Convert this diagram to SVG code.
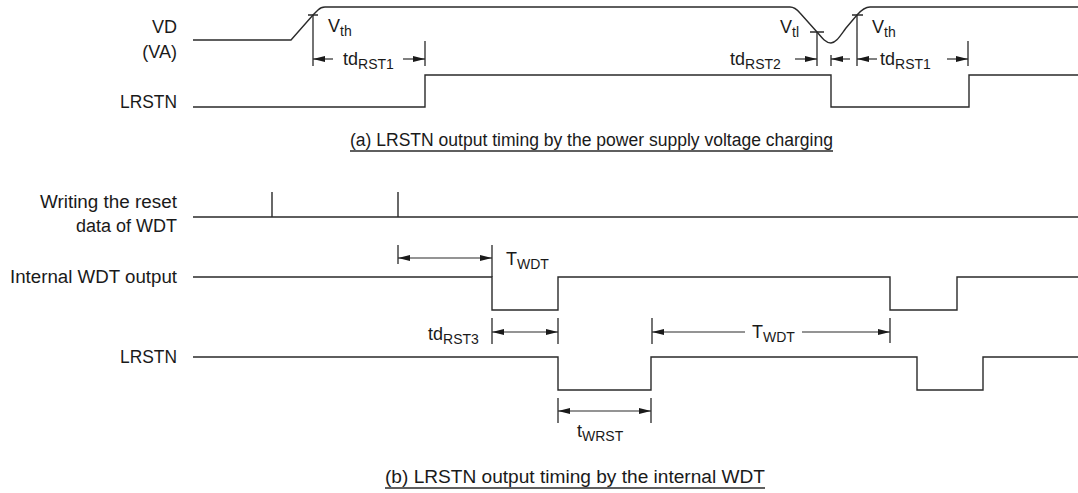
<svg xmlns="http://www.w3.org/2000/svg" width="1078" height="493" viewBox="0 0 1078 493">
<style>
.sig{fill:none;stroke:#2a2a2a;stroke-width:1.4}
.tk{fill:none;stroke:#2a2a2a;stroke-width:1.3}
.ar{fill:none;stroke:#2a2a2a;stroke-width:1.2}
text{font-family:"Liberation Sans",Arial,sans-serif;font-size:18px;fill:#1a1a1a}
.sub{font-size:14px}
.cap{font-size:18px}
</style>
<defs>
<marker id="ah" viewBox="0 0 12 6" refX="12" refY="3" markerWidth="12" markerHeight="6" markerUnits="userSpaceOnUse" orient="auto-start-reverse">
<path d="M0,0 L12,3 L0,6 Z" fill="#1a1a1a"/>
</marker>
</defs>
<rect width="1078" height="493" fill="#ffffff"/>

<g id="labels">
<text x="177" y="33" text-anchor="end">VD</text>
<text x="177" y="58" text-anchor="end">(VA)</text>
<text x="177" y="108" text-anchor="end" textLength="57" lengthAdjust="spacingAndGlyphs">LRSTN</text>
<text x="177" y="208" text-anchor="end" textLength="137" lengthAdjust="spacingAndGlyphs">Writing the reset</text>
<text x="177" y="232" text-anchor="end">data of WDT</text>
<text x="177" y="283" text-anchor="end" textLength="167" lengthAdjust="spacingAndGlyphs">Internal WDT output</text>
<text x="177" y="363" text-anchor="end" textLength="57" lengthAdjust="spacingAndGlyphs">LRSTN</text>
</g>

<g id="sig-vd">
<path class="sig" d="M193 40 H291 L313 15 L318 10 Q321 7 325 7 H790 Q795 7 800 13 L817 32 C822 38 826 43 831 43 C836 43 840 36 846 28 L857 15 Q864 7 870 7 H1078"/>
</g>
<g id="sig-lrstn-a">
<path class="sig" d="M193 107 H425 V75 H831 V107 H969 V75 H1078"/>
</g>
<g id="sig-write">
<path class="sig" d="M193 217 H1078 M272 192 V217 M398 192 V217"/>
</g>
<g id="sig-wdt">
<path class="sig" d="M193 277 H492 V310 H558 V277 H890 V310 H957 V277 H1078"/>
</g>
<g id="sig-lrstn-b">
<path class="sig" d="M193 357 H558 V390 H651 V357 H917 V390 H983 V357 H1078"/>
</g>

<g id="connectors">
<path class="tk" d="M308 15 H318 M313 15 V66 M425 41 V66 M810 32 H824 M817 32 V66 M831 55 V66 M852 15 H863 M857 15 V66 M968 41 V66"/>
<line class="ar" x1="333" y1="59" x2="313" y2="59" marker-end="url(#ah)"/>
<line class="ar" x1="403" y1="59" x2="425" y2="59" marker-end="url(#ah)"/>
<line class="ar" x1="795" y1="59" x2="817" y2="59" marker-end="url(#ah)"/>
<line class="ar" x1="850" y1="59" x2="831" y2="59" marker-end="url(#ah)"/>
<line class="ar" x1="877" y1="59" x2="857" y2="59" marker-end="url(#ah)"/>
<line class="ar" x1="947" y1="59" x2="968" y2="59" marker-end="url(#ah)"/>
<path class="tk" d="M398 245 V264 M492 245 V277 M492 318 V344 M558 318 V344 M652 318 V344 M890 318 V343 M558 398 V423 M651 398 V423"/>
<line class="ar" x1="398" y1="258" x2="492" y2="258" marker-start="url(#ah)" marker-end="url(#ah)"/>
<line class="ar" x1="492" y1="332" x2="558" y2="332" marker-start="url(#ah)" marker-end="url(#ah)"/>
<line class="ar" x1="745" y1="332" x2="652" y2="332" marker-end="url(#ah)"/>
<line class="ar" x1="802" y1="332" x2="890" y2="332" marker-end="url(#ah)"/>
<line class="ar" x1="558" y1="411" x2="651" y2="411" marker-start="url(#ah)" marker-end="url(#ah)"/>
</g>

<g id="annotations">
<text x="328" y="32">V<tspan class="sub" dy="4">th</tspan></text>
<text x="343" y="65">td<tspan class="sub" dy="4">RST1</tspan></text>
<text x="780" y="33">V<tspan class="sub" dy="4">tl</tspan></text>
<text x="872" y="33">V<tspan class="sub" dy="4">th</tspan></text>
<text x="730" y="65">td<tspan class="sub" dy="4">RST2</tspan></text>
<text x="880" y="65">td<tspan class="sub" dy="4">RST1</tspan></text>
<text x="506" y="265">T<tspan class="sub" dy="4">WDT</tspan></text>
<text x="428" y="340">td<tspan class="sub" dy="4">RST3</tspan></text>
<text x="752" y="338">T<tspan class="sub" dy="4">WDT</tspan></text>
<text x="577" y="437">t<tspan class="sub" dy="4">WRST</tspan></text>
</g>

<g id="captions">
<text class="cap" x="350" y="146" textLength="483" lengthAdjust="spacingAndGlyphs">(a) LRSTN output timing by the power supply voltage charging</text>
<line class="tk" x1="350" y1="151" x2="833" y2="151"/>
<text class="cap" x="385" y="483" textLength="380" lengthAdjust="spacingAndGlyphs">(b) LRSTN output timing by the internal WDT</text>
<line class="tk" x1="385" y1="488" x2="765" y2="488"/>
</g>
</svg>
